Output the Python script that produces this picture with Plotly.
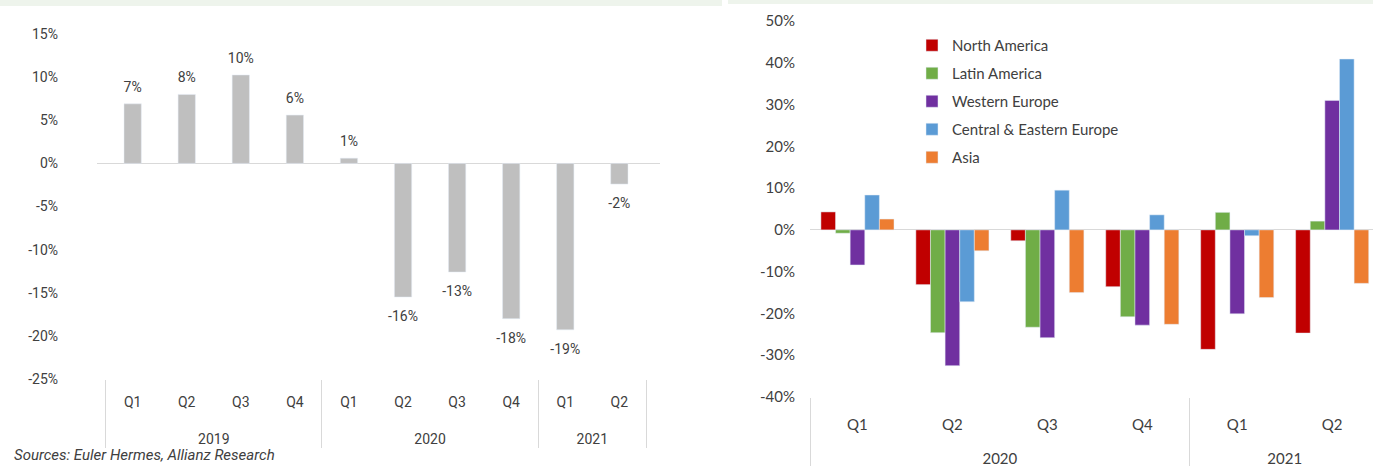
import plotly.graph_objects as go

# ---------------- data ----------------
left_years = ["2019"] * 4 + ["2020"] * 4 + ["2021"] * 2
left_quarters = ["Q1", "Q2", "Q3", "Q4", "Q1", "Q2", "Q3", "Q4", "Q1", "Q2"]
left_values = [0.069, 0.080, 0.1025, 0.056, 0.006, -0.155, -0.126, -0.180, -0.193, -0.024]

right_years = ["2020"] * 4 + ["2021"] * 2
right_quarters = ["Q1", "Q2", "Q3", "Q4", "Q1", "Q2"]
north_america = [0.043, -0.131, -0.026, -0.136, -0.286, -0.247]
latin_america = [-0.008, -0.246, -0.233, -0.208, 0.042, 0.021]
western_europe = [-0.084, -0.325, -0.258, -0.228, -0.201, 0.310]
central_eastern_europe = [0.0835, -0.172, 0.095, 0.036, -0.014, 0.409]
asia = [0.026, -0.050, -0.150, -0.226, -0.162, -0.128]

series_names = ["North America", "Latin America", "Western Europe",
                "Central & Eastern Europe", "Asia"]
series_values = [north_america, latin_america, western_europe,
                 central_eastern_europe, asia]
series_colors = ["#C00000", "#70AD47", "#7030A0", "#5B9BD5", "#ED7D31"]

left_yticks = [0.15, 0.10, 0.05, 0.0, -0.05, -0.10, -0.15, -0.20, -0.25]
left_yticktext = ["15%", "10%", "5%", "0%", "-5%", "-10%", "-15%", "-20%", "-25%"]
right_yticks = [0.5, 0.4, 0.3, 0.2, 0.1, 0.0, -0.1, -0.2, -0.3, -0.4]
right_yticktext = ["50%", "40%", "30%", "20%", "10%", "0%", "-10%", "-20%", "-30%", "-40%"]

LEFT_FONT = "Roboto, Noto Sans, sans-serif"
RIGHT_FONT = "Lato, Noto Sans, sans-serif"
TXT = "#404040"


def sized(text, px):
    return f"<span style='font-size:{px}px'>{text}</span>"


# left axis labels (visible size 14px; the larger axis base font widens the row gap)
left_x = [["<br>" + sized(y, 14) for y in left_years], [sized(q, 14) for q in left_quarters]]
# right axis labels (visible size 15px)
right_x = [["<br>" + sized(y, 15) for y in right_years], [sized(q, 15) for q in right_quarters]]

fig = go.Figure()

# left chart bars
fig.add_trace(go.Bar(
    x=left_x, y=left_values,
    marker_color="#BFBFBF", width=0.32, showlegend=False,
    xaxis="x", yaxis="y", hoverinfo="y",
))
# left chart data labels
fig.add_trace(go.Scatter(
    x=left_x, y=left_values,
    mode="markers+text",
    marker=dict(size=[12 if v >= 0 else 20 for v in left_values], opacity=0),
    text=[f"{round(v * 100):.0f}%" for v in left_values],
    textposition=["top center" if v >= 0 else "bottom center" for v in left_values],
    textfont=dict(family=LEFT_FONT, size=14, color=TXT),
    showlegend=False, hoverinfo="skip", xaxis="x", yaxis="y",
))

# right chart bars
for name, vals, col in zip(series_names, series_values, series_colors):
    fig.add_trace(go.Bar(
        x=right_x, y=vals, name=name,
        marker=dict(color=col), xaxis="x2", yaxis="y2",
        legendgroup=name,
    ))

W, H = 1373, 466
fig.update_layout(
    width=W, height=H, autosize=False,
    margin=dict(l=0, r=0, t=0, b=0, autoexpand=False),
    paper_bgcolor="white", plot_bgcolor="white",
    barmode="group", bargap=0.23, bargroupgap=0,
    font=dict(family=LEFT_FONT, color=TXT, size=14),
    xaxis=dict(
        domain=[97 / W, 660 / W], anchor="y", type="multicategory",
        showdividers=True, dividercolor="#D9D9D9", dividerwidth=1,
        showline=False, showgrid=False, ticklabelstandoff=7, automargin=False,
        tickfont=dict(family=LEFT_FONT, size=20, color=TXT),
    ),
    yaxis=dict(
        domain=[(H - 379) / H, (H - 34) / H], anchor="x",
        range=[-0.25, 0.15], tickvals=left_yticks, ticktext=left_yticktext,
        showgrid=False, zeroline=True, zerolinecolor="#D9D9D9", zerolinewidth=1,
        showline=False, ticklabelstandoff=38, automargin=False,
        tickfont=dict(family=LEFT_FONT, size=14, color=TXT),
    ),
    xaxis2=dict(
        domain=[810 / W, 1.0], anchor="y2", type="multicategory",
        range=[-0.5, 5.43],
        showdividers=True, dividercolor="#D9D9D9", dividerwidth=1,
        showline=False, showgrid=False, ticklabelstandoff=12, automargin=False,
        tickfont=dict(family=RIGHT_FONT, size=20, color=TXT),
    ),
    yaxis2=dict(
        domain=[(H - 397) / H, (H - 21) / H], anchor="x2",
        range=[-0.40, 0.50], tickvals=right_yticks, ticktext=right_yticktext,
        showgrid=False, zeroline=True, zerolinecolor="#D9D9D9", zerolinewidth=1,
        showline=False, ticklabelstandoff=14, automargin=False,
        tickfont=dict(family=RIGHT_FONT, size=15, color=TXT),
    ),
    legend=dict(
        x=912 / W, y=(H - 29) / H, xanchor="left", yanchor="top",
        bgcolor="rgba(0,0,0,0)", font=dict(family=RIGHT_FONT, size=15, color=TXT),
        traceorder="grouped", tracegroupgap=5.5, itemwidth=30,
    ),
    shapes=[
        dict(type="rect", xref="paper", yref="paper", x0=0, x1=722 / W,
             y0=(H - 6) / H, y1=1, fillcolor="#EEF4EC", line_width=0, layer="below"),
        dict(type="rect", xref="paper", yref="paper", x0=728 / W, x1=1,
             y0=(H - 4) / H, y1=1, fillcolor="#EEF4EC", line_width=0, layer="below"),
    ],
    annotations=[
        dict(text="<i>Sources: Euler Hermes, Allianz Research</i>",
             xref="paper", yref="paper", x=12 / W, y=0,
             xanchor="left", yanchor="bottom", showarrow=False,
             font=dict(family=LEFT_FONT, size=15, color=TXT)),
    ],
)

fig.write_html("out.html", config={"displayModeBar": False},
               post_script="document.body.style.margin='0';")
